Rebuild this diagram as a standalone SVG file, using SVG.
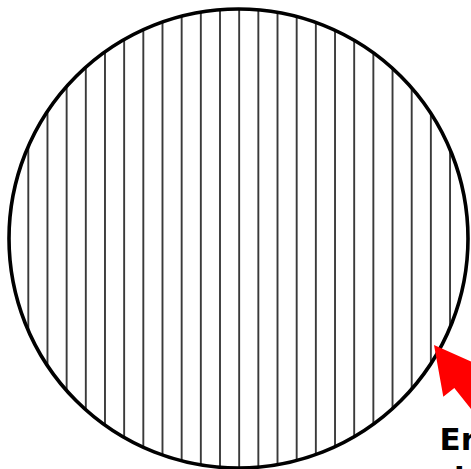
<svg xmlns="http://www.w3.org/2000/svg" width="471" height="469" viewBox="0 0 471 469">
  <style>
    .hatch line { stroke: #3a3a3a; stroke-width: 1.9; }
    .outline { fill: none; stroke: #000; stroke-width: 3.6; }
    .label { font-family: "DejaVu Sans", sans-serif; font-weight: bold; font-size: 31px; fill: #000; }
  </style>
  <defs>
    <clipPath id="disc">
      <circle cx="238.5" cy="238.5" r="229.5"/>
    </clipPath>
  </defs>
  <rect width="471" height="469" fill="#fff"/>
  <g id="circle">
    <g class="hatch" clip-path="url(#disc)">
      <line x1="28.3" y1="0" x2="28.3" y2="469"/>
      <line x1="47.47" y1="0" x2="47.47" y2="469"/>
      <line x1="66.64" y1="0" x2="66.64" y2="469"/>
      <line x1="85.81" y1="0" x2="85.81" y2="469"/>
      <line x1="104.98" y1="0" x2="104.98" y2="469"/>
      <line x1="124.15" y1="0" x2="124.15" y2="469"/>
      <line x1="143.32" y1="0" x2="143.32" y2="469"/>
      <line x1="162.49" y1="0" x2="162.49" y2="469"/>
      <line x1="181.66" y1="0" x2="181.66" y2="469"/>
      <line x1="200.83" y1="0" x2="200.83" y2="469"/>
      <line x1="220" y1="0" x2="220" y2="469"/>
      <line x1="239.17" y1="0" x2="239.17" y2="469"/>
      <line x1="258.34" y1="0" x2="258.34" y2="469"/>
      <line x1="277.51" y1="0" x2="277.51" y2="469"/>
      <line x1="296.68" y1="0" x2="296.68" y2="469"/>
      <line x1="315.85" y1="0" x2="315.85" y2="469"/>
      <line x1="335.02" y1="0" x2="335.02" y2="469"/>
      <line x1="354.19" y1="0" x2="354.19" y2="469"/>
      <line x1="373.36" y1="0" x2="373.36" y2="469"/>
      <line x1="392.53" y1="0" x2="392.53" y2="469"/>
      <line x1="411.7" y1="0" x2="411.7" y2="469"/>
      <line x1="430.87" y1="0" x2="430.87" y2="469"/>
      <line x1="450.04" y1="0" x2="450.04" y2="469"/>
    </g>
    <circle class="outline" cx="238.5" cy="238.5" r="229.5"/>
  </g>
  <g id="connectors">
    <polygon points="434,345 443.3,396.7 454.3,388 490,433 507,419 471,375 482.2,366.4" fill="#ff0000"/>
  </g>
  <g id="label">
    <text class="label" x="439.5" y="450">Er</text>
    <text class="label" x="454" y="488.5">i</text>
  </g>
</svg>
